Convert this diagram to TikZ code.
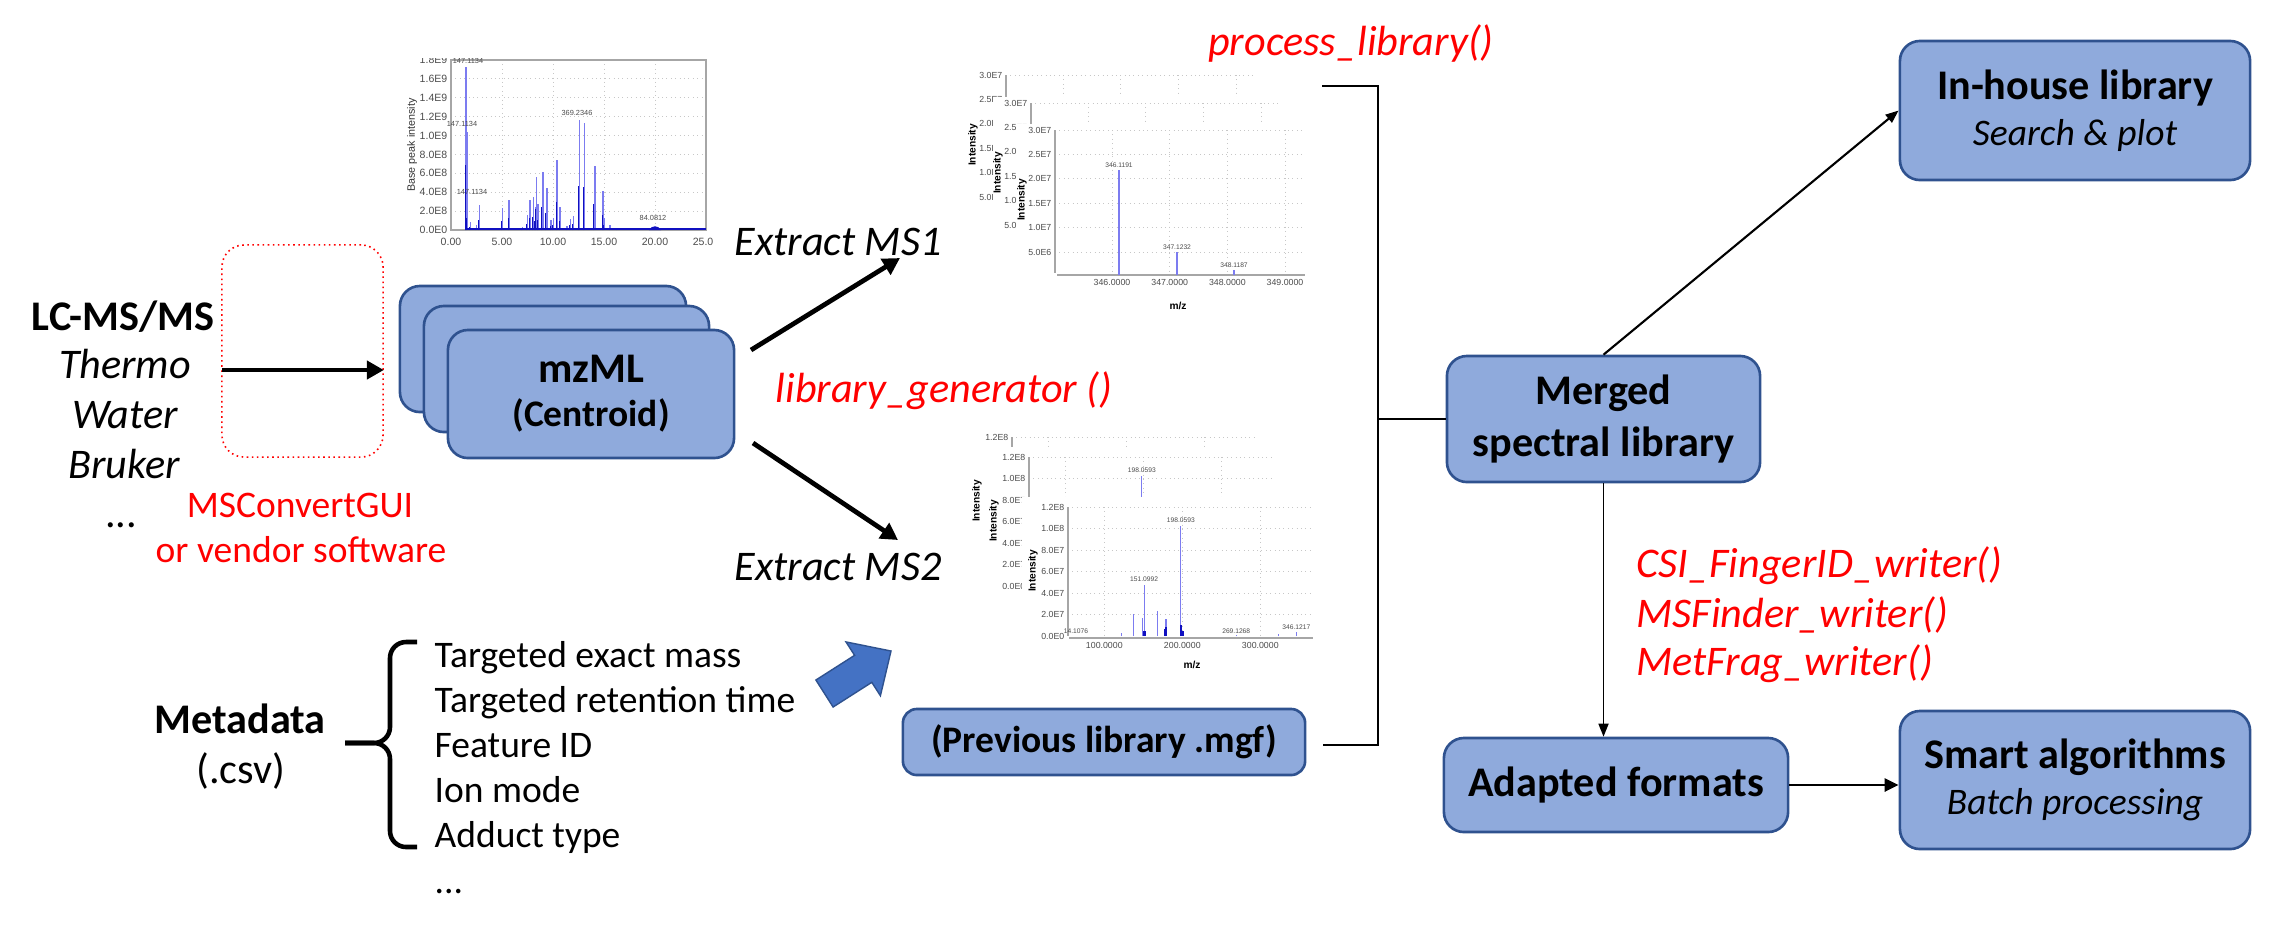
\documentclass[tikz,border=0pt]{standalone}
\usepackage{fontspec}
\setmainfont{Carlito}
\setsansfont{Liberation Sans}
\usetikzlibrary{arrows.meta,calc}

\definecolor{boxfill}{HTML}{8FAADC}
\definecolor{boxline}{HTML}{2F528F}
\definecolor{fatblue}{HTML}{4472C4}
\definecolor{fnred}{HTML}{FF0000}
\definecolor{peakdark}{HTML}{1010C0}
\definecolor{peaklite}{HTML}{7C7CF0}

\def\bigfont{\fontsize{12}{14}\selectfont}
\def\midfont{\fontsize{10.67}{12.8}\selectfont}

% one MS1 spectrum window, origin = top of its intensity axis
\def\msonepanel#1(#2){%
	\begin{scope}[shift={(#2)}]
		\fill[white] (-38,-6) rectangle (256,182);
		\foreach \yy in {0,24.4,48.8,73.2,97.6,122} \draw[grid] (0,\yy) -- (250,\yy);
		\foreach \xx in {57,114.7,172.4,230} \draw[grid] (\xx,0) -- (\xx,143);
		\draw[axis] (0,0) -- (0,143);
		\draw[axis] (2,145) -- (250,145);
		\foreach \yy/\lab [count=\i] in {0/3.0E7,24.4/2.5E7,48.8/2.0E7,73.2/1.5E7,97.6/1.0E7,122/5.0E6}
			\node[ticklab,anchor=east] (#1y\i) at (-3,\yy) {\lab};
		\foreach \xx/\lab [count=\i] in {57/346.0000,114.7/347.0000,172.4/348.0000,230/349.0000}
			\node[ticklab] (#1x\i) at (\xx,152) {\lab};
		\node[axtitle] (#1xt) at (123,176) {m/z};
		\node[axtitle,rotate=90] (#1yt) at (-33,70) {Intensity};
		\foreach \xx/\yy/\lab [count=\i] in {64/40/346.1191,122/122/347.1232,179/140/348.1187}{
			\draw[mspeak] (\xx,145) -- (\xx,\yy);
			\node[pklab] (#1p\i) at (\xx,\yy-5) {\lab};}
	\end{scope}}

% one MS2 spectrum window, origin = top of its intensity axis
\def\mstwopanel#1(#2){%
	\begin{scope}[shift={(#2)}]
		\fill[white] (-46,-10) rectangle (250,166);
		\foreach \yy in {0,21.5,43,64.5,86,107.5} \draw[grid] (0,\yy) -- (245,\yy);
		\foreach \xx in {36.3,114.3,192.3} \draw[grid] (\xx,0) -- (\xx,129);
		\draw[axis] (0,0) -- (0,129);
		\draw[axis] (1,131) -- (245,131);
		\foreach \yy/\lab [count=\i] in {0/1.2E8,21.5/1.0E8,43/8.0E7,64.5/6.0E7,86/4.0E7,107.5/2.0E7,129/0.0E0}
			\node[ticklab,anchor=east] (#1y\i) at (-3,\yy) {\lab};
		\foreach \xx/\lab [count=\i] in {36.3/100.0000,114.3/200.0000,192.3/300.0000}
			\node[ticklab] (#1x\i) at (\xx,138) {\lab};
		\node[axtitle] (#1xt) at (124,158) {m/z};
		\node[axtitle,rotate=90] (#1yt) at (-35,64) {Intensity};
		\foreach \xx/\yy in {53.5/125.8,65.3/107,74.5/110.7,76.1/77.9,89.3/104.3,97.9/111.8,112.8/18.8,168.2/128,210.2/126.9,228.3/124.7}
			\draw[mspeak] (\xx,129) -- (\xx,\yy);
		\foreach \xx/\yy in {76.1/123.6,77.2/123.6,97.1/121.5,97.9/120.4,113.2/118.2,114.7/123.6}
			\draw[mspeak,peakdark,line width=0.5pt] (\xx,129) -- (\xx,\yy);
		\foreach \xx/\yy/\lab [count=\i] in {8/124/14.1076,76.1/72/151.0992,112.8/13/198.0593,168.2/124/269.1268,228.3/120/346.1217}
			\node[pklab] (#1p\i) at (\xx,\yy) {\lab};
	\end{scope}}

\begin{document}
\begin{tikzpicture}[x=0.01cm,y=-0.01cm,
	every node/.style={inner sep=0pt},
	libbox/.style={draw=boxline,fill=boxfill,line width=0.75pt,rounded corners=2mm,align=center,font=\bigfont\bfseries},
	plain/.style={anchor=base,font=\bigfont},
	fnlabel/.style={anchor=base,text=fnred,font=\bigfont\itshape},
	thickarrow/.style={line width=1.35pt,-{Triangle[length=1.7mm,width=1.8mm]}},
	thinarrow/.style={line width=0.6pt,-{Triangle[length=1.3mm,width=1mm]}},
	bracketline/.style={line width=0.6pt},
	grid/.style={black!22,densely dotted,line width=0.25pt},
	axis/.style={black!35,line width=0.3pt},
	ticklab/.style={text=black!70,font=\sffamily\fontsize{2.5}{3}\selectfont},
	pklab/.style={text=black!70,font=\sffamily\fontsize{1.9}{2.2}\selectfont},
	axtitle/.style={font=\sffamily\bfseries\fontsize{2.9}{3.4}\selectfont},
	mspeak/.style={peaklite,line width=0.35pt},
	chromdark/.style={peakdark,line width=0.22pt},
	chromlite/.style={peaklite,line width=0.45pt}]
		%%%%% START %%%%%
		\useasboundingbox (0,0) rectangle (2276,926);
		
		%%%%% chromatogram %%%%%
		\begin{scope}
			\clip (395,58) rectangle (712,262);
			\foreach \k in {1,...,8} \draw[grid] (451,230-\k*18.89) -- (706,230-\k*18.89);
			\foreach \k in {1,...,4} \draw[grid] (451+\k*51,60) -- (451+\k*51,230);
			\draw[axis] (451,60) rectangle (706,230);
			\foreach \k/\lab in {0/0.0E0,1/2.0E8,2/4.0E8,3/6.0E8,4/8.0E8,5/1.0E9,6/1.2E9,7/1.4E9,8/1.6E9,9/1.8E9}
				\node[ticklab,font=\sffamily\fontsize{3}{3.5}\selectfont,anchor=east] (cy\k) at (448,230-\k*18.89) {\lab};
			\foreach \k/\lab in {0/0.00,1/5.00,2/10.00,3/15.00,4/20.00,5/25.00}
				\node[ticklab,font=\sffamily\fontsize{3}{3.5}\selectfont] (cx\k) at (451+\k*51,242) {\lab};
			\node[ticklab,font=\sffamily\fontsize{3.05}{3.5}\selectfont,text=black!80,rotate=90] (bpi) at (412,145) {Base peak intensity};
			\foreach \t/\h in {1.37/17.3,1.45/10.4,1.52/3.3,1.8/0.8,2.4/0.5,2.7/2.65,4.97/2.3,5.6/3.2,6.9/0.3,7.4/1.6,7.65/3.2,8.0/3.5,8.2/2.4,8.3/5.65,8.45/2.75,8.9/6.1,9.3/4.5,9.7/1.06,9.96/1.3,10.3/7.4,10.6/2.4,11.3/0.4,11.6/1.2,11.9/1.5,12.5/11.7,13.0/11.3,14.0/6.8,14.8/4.1,14.95/1.3,15.5/0.5,16.2/0.25}{
				\draw[chromlite] (452+\t*10.2,230) -- ++(0,-\h*9.44);
				\draw[chromdark] (451+\t*10.2,230) -- ++(0,-\h*9.44*0.4);}
			\draw[chromdark,line width=0.6pt] (465,229) -- (706,229);
			\fill[peakdark] (649,230) .. controls (652,225) and (658,225) .. (661,230) -- cycle;
			\node[pklab,font=\sffamily\fontsize{2.1}{2.4}\selectfont] (cl1) at (468,61) {147.1134};
			\node[pklab,font=\sffamily\fontsize{2.1}{2.4}\selectfont] (cl2) at (462,124) {147.1134};
			\node[pklab,font=\sffamily\fontsize{2.1}{2.4}\selectfont] (cl3) at (472,192) {147.1134};
			\node[pklab,font=\sffamily\fontsize{2.1}{2.4}\selectfont] (cl4) at (577,113) {369.2346};
			\node[pklab,font=\sffamily\fontsize{2.1}{2.4}\selectfont] (cl5) at (653,218) {84.0812};
		\end{scope}
		
		%%%%% spectra %%%%%
		\msonepanel{sa}(1006,75)
		\msonepanel{sb}(1031,103)
		\msonepanel{sc}(1055,130)
		\mstwopanel{ta}(1012,437)
		\mstwopanel{tb}(1029,457)
		\mstwopanel{tc}(1068,507)
		
		%%%%% raw data %%%%%
		\node[plain,font=\bigfont\bfseries] (lcms) at (123,330) {LC-MS/MS};
		\node[plain,font=\bigfont\itshape] (thermo) at (125,378) {Thermo};
		\node[plain,font=\bigfont\itshape] (water) at (125,428) {Water};
		\node[plain,font=\bigfont\itshape] (bruker) at (124,478) {Bruker};
		\node[plain] (vend) at (121,527) {...};
		
		\node[draw=fnred,densely dotted,line width=0.45pt,rounded corners=2.2mm,minimum width=1.61cm,minimum height=2.12cm] (conv) at (302.5,351) {};
		\coordinate (lcstart) at (222,370);
		\draw[thickarrow] (lcstart) -- (lcstart -| conv.east);
		\node[anchor=base,text=fnred,font=\midfont] (msconv) at (300,517) {MSConvertGUI};
		\node[anchor=base,text=fnred,font=\midfont] (vendsw) at (301,562) {or vendor software};
		
		\node[libbox,minimum width=2.86cm,minimum height=1.26cm] (mzmla) at (543,349) {};
		\node[libbox,minimum width=2.85cm,minimum height=1.26cm] (mzmlb) at (566.5,369) {};
		\node[libbox,minimum width=2.86cm,minimum height=1.28cm,font=\fontsize{12}{12.5}\selectfont\bfseries] (mzmlc) at (591,394) {mzML\\{\midfont (Centroid)}};
		
		%%%%% extraction %%%%%
		\coordinate (ms1from) at (751,350);
		\coordinate (ms1to) at (900,258);
		\coordinate (ms2from) at (753,443);
		\coordinate (ms2to) at (898,540);
		\draw[thickarrow] (ms1from) -- (ms1to);
		\draw[thickarrow] (ms2from) -- (ms2to);
		\node[plain,font=\bigfont\itshape] (ex1) at (838,255) {Extract MS1};
		\node[plain,font=\bigfont\itshape] (ex2) at (838,580) {Extract MS2};
		\node[fnlabel] (libgen) at (944,402) {library\_generator ()};
		\node[fnlabel] (proclib) at (1351,55) {process\_library()};
		
		%%%%% metadata %%%%%
		\node[plain,font=\bigfont\bfseries] (meta) at (240,733) {Metadata};
		\node[plain] (csv) at (241,783) {(.csv)};
		\draw[line width=1.3pt,rounded corners=1.6mm] (417,642) -| (390,743) -- (345,743);
		\draw[line width=1.3pt,rounded corners=1.6mm] (417,847) -| (390,743) -- (345,743);
		\foreach \yy/\txt [count=\i] in {667/Targeted exact mass,712/Targeted retention time,757/Feature ID,802/Ion mode,847/Adduct type}
			\node[anchor=base west,font=\midfont] (meta\i) at (434,\yy) {\txt};
		\node[anchor=base west,font=\midfont] (meta6) at (434,893) {...};
		\filldraw[fill=fatblue,draw=boxline,line width=0.4pt] (833.1,707) -- (871.8,682.3) -- (880.4,695.7) -- (891,651) -- (846,641.9) -- (854.6,655.3) -- (815.9,680) -- cycle;
		
		%%%%% libraries %%%%%
		\node[libbox,rounded corners=1.4mm,minimum width=4.02cm,minimum height=0.66cm,font=\midfont\bfseries] (prev) at (1104,742) {(Previous library .mgf)};
		\node[libbox,minimum width=3.13cm,minimum height=1.26cm,font=\fontsize{12}{14.8}\selectfont\bfseries] (merged) at (1603.5,419) {Merged\\spectral library};
		\node[libbox,minimum width=3.5cm,minimum height=1.39cm,font=\fontsize{12}{13.2}\selectfont\bfseries] (inhouse) at (2075,110.5) {In-house library\\{\midfont\mdseries\itshape Search \& plot}};
		\node[libbox,minimum width=3.44cm,minimum height=0.94cm] (adapted) at (1616,785) {Adapted formats};
		\node[libbox,minimum width=3.5cm,minimum height=1.38cm,font=\fontsize{12}{13.2}\selectfont\bfseries] (smart) at (2075,780) {Smart algorithms\\{\midfont\mdseries\itshape Batch processing}};
		
		\coordinate (brtop) at (1322,86);
		\coordinate (brbot) at (1323,745);
		\draw[bracketline] (brtop) -| ($(brbot)+(55,0)$) -- (brbot);
		\draw[bracketline] (merged.west) -- ++(-69,0);
		
		\draw[thinarrow] (merged.north) -- (inhouse.west);
		\draw[thinarrow,line width=0.5pt] (merged.south) -- (merged.south |- adapted.north);
		\draw[line width=0.8pt,-{Triangle[length=1.4mm,width=1.3mm]}] (adapted.east) -- (adapted.east -| smart.west);
		
		\node[fnlabel,anchor=base west] (csi) at (1636,577) {CSI\_FingerID\_writer()};
		\node[fnlabel,anchor=base west] (msf) at (1636,627) {MSFinder\_writer()};
		\node[fnlabel,anchor=base west] (metf) at (1636,675) {MetFrag\_writer()};
		%%%%% END %%%%%
\end{tikzpicture}
\end{document}
